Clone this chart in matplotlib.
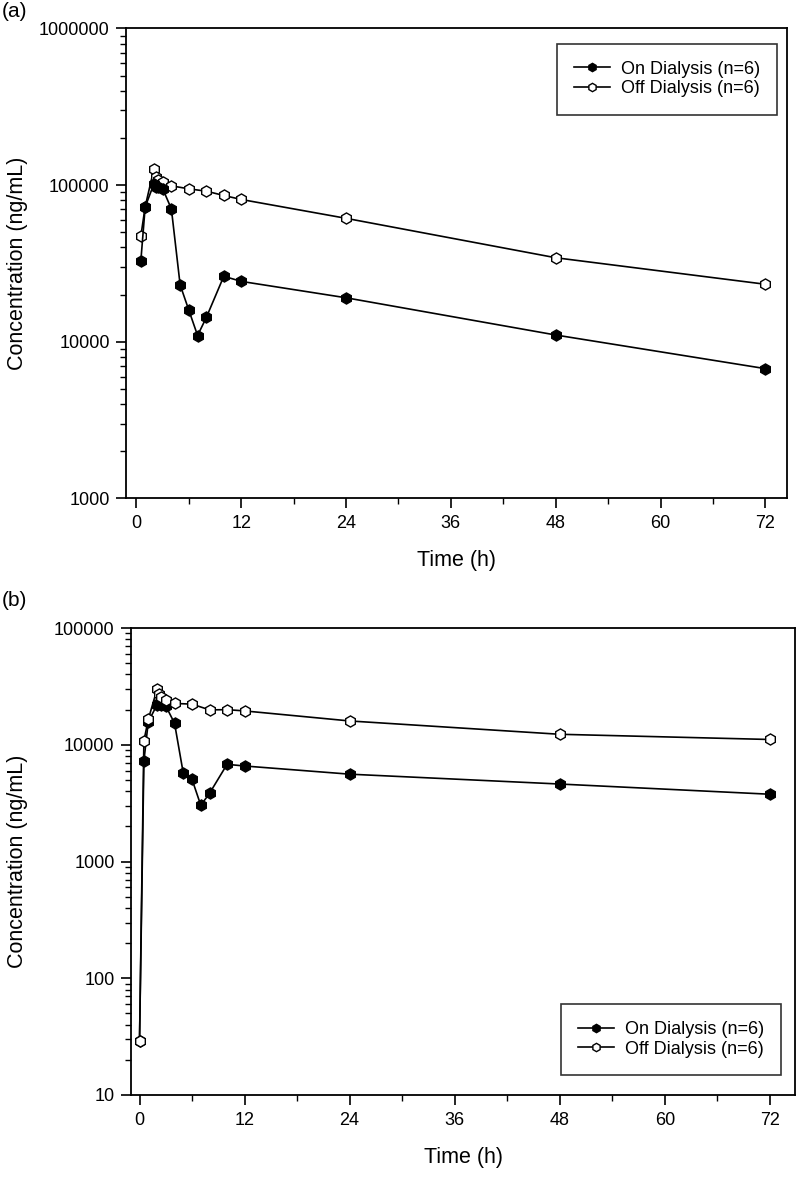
import numpy as np
import matplotlib
matplotlib.use("Agg")
import matplotlib.pyplot as plt
from matplotlib.ticker import FuncFormatter, LogLocator, MultipleLocator

plt.rcParams['font.family'] = ['Liberation Sans', 'DejaVu Sans']

# panel (a)
t_on_a = [0.5, 1, 2, 2.25, 2.5, 3, 4, 5, 6, 7, 8, 10, 12, 24, 48, 72]
c_on_a = [32700, 72600, 102000, 98000, 97000, 95000, 70500, 23100, 15900,
          10970, 14300, 26200, 24300, 19100, 11050, 6740]
t_off_a = [0.5, 1, 2, 2.25, 2.5, 3, 4, 6, 8, 10, 12, 24, 48, 72]
c_off_a = [47100, 73000, 126700, 112000, 108000, 104000, 99000, 94700,
           91500, 85900, 81000, 61400, 34400, 23300]

# panel (b)
t_on_b = [0, 0.5, 1, 2, 2.25, 2.5, 3, 4, 5, 6, 7, 8, 10, 12, 24, 48, 72]
c_on_b = [29, 7260, 15700, 22000, 23000, 22000, 21500, 15300, 5700, 5050,
          3030, 3840, 6800, 6580, 5600, 4610, 3770]
t_off_b = [0, 0.5, 1, 2, 2.25, 2.5, 3, 4, 6, 8, 10, 12, 24, 48, 72]
c_off_b = [29, 10800, 16500, 29900, 27000, 25500, 24000, 22600, 22300,
           19900, 20000, 19500, 16000, 12300, 11100]

lbl_on = 'On Dialysis (n=6)'
lbl_off = 'Off Dialysis (n=6)'
xticks = [0, 12, 24, 36, 48, 60, 72]

fig = plt.figure(figsize=(8.0, 11.77), dpi=100)
ax1 = fig.add_axes([0.158, 0.5765, 0.826, 0.3993])
ax2 = fig.add_axes([0.164, 0.0697, 0.830, 0.3967])


def style(ax, ylim, xlim):
    ax.set_yscale('log')
    ax.set_ylim(*ylim)
    ax.set_xlim(*xlim)
    ax.set_xticks(xticks)
    ax.xaxis.set_minor_locator(MultipleLocator(6))
    ax.yaxis.set_major_locator(LogLocator(base=10))
    ax.yaxis.set_minor_locator(LogLocator(base=10, subs=np.arange(2, 10)))
    ax.yaxis.set_major_formatter(FuncFormatter(lambda v, p: '%d' % round(v)))
    ax.yaxis.set_minor_formatter(FuncFormatter(lambda v, p: ''))
    ax.tick_params(which='major', direction='out', length=7, width=1.2,
                   labelsize=13, pad=5)
    ax.tick_params(which='minor', direction='out', length=4, width=1.0)
    for s in ax.spines.values():
        s.set_linewidth(1.3)
    ax.set_xlabel('Time (h)', fontsize=15.5, labelpad=13)
    ax.set_ylabel('Concentration (ng/mL)', fontsize=15.5)


panels = [
    (ax1, t_on_a, c_on_a, t_off_a, c_off_a, (1000, 1e6), (-1.15, 74.5), True,
     'upper right', (0.985, 0.968)),
    (ax2, t_on_b, c_on_b, t_off_b, c_off_b, (10, 1e5), (-0.95, 74.9), False,
     'lower right', (0.979, 0.043)),
]
for ax, ton, con, toff, coff, ylim, xlim, top_on, loc, anchor in panels:
    z_on, z_off = (3, 2) if top_on else (2, 3)
    ax.plot(ton, con, color='black', lw=1.2, marker='h', ms=8,
            mfc='black', mec='black', zorder=z_on, label=lbl_on)
    ax.plot(toff, coff, color='black', lw=1.2, marker='h', ms=8,
            mfc='white', mec='black', mew=1.0, zorder=z_off, label=lbl_off)
    style(ax, ylim, xlim)
    leg = ax.legend(loc=loc, bbox_to_anchor=anchor, borderaxespad=0,
                    fontsize=13, frameon=True, fancybox=False,
                    edgecolor='black', markerscale=0.75, handlelength=2.0,
                    handletextpad=0.6, borderpad=0.95, labelspacing=0.15)
    leg.get_frame().set_linewidth(1.2)

ax1.yaxis.set_label_coords(-0.149, 0.5)
ax2.yaxis.set_label_coords(-0.156, 0.5)

fig.text(0.002, 0.998, '(a)', fontsize=15, ha='left', va='top')
fig.text(0.002, 0.498, '(b)', fontsize=15, ha='left', va='top')

fig.savefig('out.png', dpi=100)
